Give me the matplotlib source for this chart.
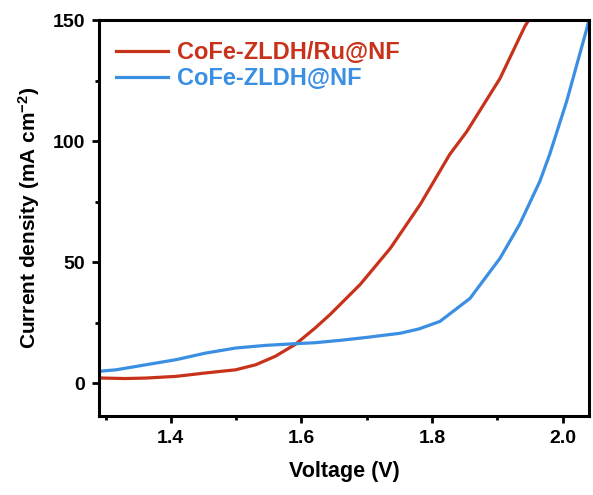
import matplotlib.pyplot as plt
from matplotlib.ticker import MultipleLocator

plt.rcParams['font.family'] = ['Liberation Sans', 'DejaVu Sans']
plt.rcParams['font.weight'] = 'bold'
plt.rcParams['mathtext.fontset'] = 'custom'
plt.rcParams['mathtext.rm'] = 'Liberation Sans:bold'
plt.rcParams['mathtext.bf'] = 'Liberation Sans:bold'
plt.rcParams['mathtext.default'] = 'bf'

# CoFe-ZLDH/Ru@NF (red), values
v_ru = [1.29, 1.296, 1.33, 1.362, 1.408, 1.453, 1.499, 1.530, 1.560, 1.591, 1.621,
        1.644, 1.690, 1.736, 1.782, 1.827, 1.853, 1.904, 1.942, 1.95]
j_ru = [2.3, 2.2, 2.0, 2.2, 2.9, 4.3, 5.6, 7.7, 11.2, 16.2, 22.9,
        28.5, 40.9, 55.8, 74.0, 94.6, 104.0, 126.0, 147.5, 151.0]

# CoFe-ZLDH@NF (blue)
v_bl = [1.29, 1.316, 1.362, 1.408, 1.453, 1.499, 1.545, 1.591, 1.621, 1.66, 1.70,
        1.751, 1.78, 1.812, 1.858, 1.904, 1.934, 1.965, 1.980, 2.006, 2.037, 2.04]
j_bl = [5.0, 5.6, 7.7, 9.8, 12.5, 14.6, 15.7, 16.4, 16.8, 17.8, 19.0,
        20.7, 22.5, 25.6, 35.1, 51.7, 65.7, 83.5, 94.6, 116.5, 146.7, 150.0]

red = '#C8321B'
blue = '#3A8FE3'

fig = plt.figure(figsize=(5.93, 4.95), dpi=100)
ax = fig.add_axes([0.167, 0.159, 0.826, 0.80])

ax.plot(v_ru, j_ru, color=red, lw=2.3, label='CoFe-ZLDH/Ru@NF')
ax.plot(v_bl, j_bl, color=blue, lw=2.3, label='CoFe-ZLDH@NF')

ax.set_xlim(1.29, 2.04)
ax.set_ylim(-13.6, 150)
ax.xaxis.set_minor_locator(MultipleLocator(0.1))
ax.yaxis.set_major_locator(MultipleLocator(50))
ax.yaxis.set_minor_locator(MultipleLocator(25))
ax.set_xticks([1.4, 1.6, 1.8, 2.0])
ax.set_xticklabels(['1.4', '1.6', '1.8', '2.0'])

for s in ax.spines.values():
    s.set_linewidth(2.2)
ax.tick_params(which='major', direction='out', length=5, width=2, labelsize=14, pad=5)
ax.tick_params(which='minor', direction='out', length=3, width=2)

ax.set_xlabel('Voltage (V)', fontsize=15.5, fontweight='bold', labelpad=10)
ax.set_ylabel('Current density (mA cm$^{-2}$)', fontsize=15, fontweight='bold', labelpad=8)

leg = ax.legend(loc='upper left', frameon=False, fontsize=17, handlelength=2.2,
                handletextpad=0.4, labelspacing=0.15, borderaxespad=0.3,
                bbox_to_anchor=(0.0, 0.99))
for t, c in zip(leg.get_texts(), [red, blue]):
    t.set_color(c)
    t.set_fontweight('bold')

plt.savefig('out.png', dpi=100)
